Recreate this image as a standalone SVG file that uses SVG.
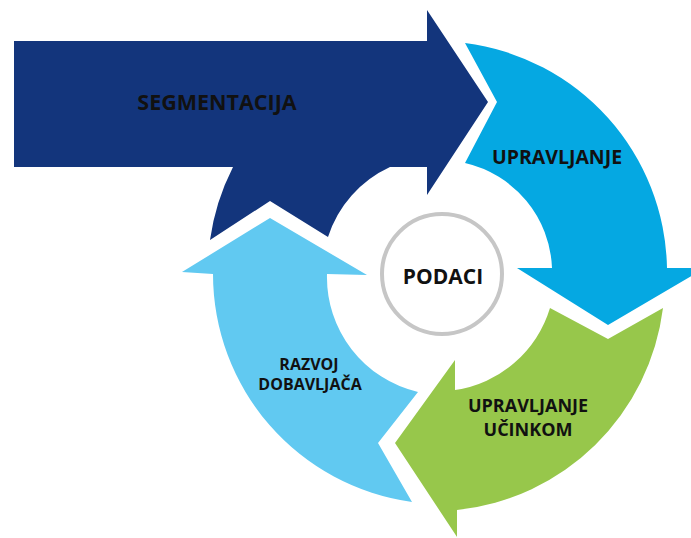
<svg xmlns="http://www.w3.org/2000/svg" width="691" height="538" viewBox="0 0 691 538">
  <style>
    .lbl { font-family: "Open Sans", "Liberation Sans", sans-serif; font-weight: 700; fill: #111111; text-anchor: middle; }
  </style>
  <rect width="691" height="538" fill="#ffffff"/>
  <g id="connectors"></g>
  <g id="segmentacija">
    <path d="M14,41 L427,41 L427,10 L488,102 L427,195 L427,167 L390,167 A116,116 0 0 0 328,237 L270,201 L210,240 A232,232 0 0 1 233,167 L14,167 Z" fill="#13357c"/>
    <text class="lbl" x="217" y="110" font-size="21.5">SEGMENTACIJA</text>
  </g>
  <g id="upravljanje">
    <path d="M465,43 A231,231 0 0 1 667,268 L705,268 L608,325 L517,268 L552,268 A112,112 0 0 0 465,163 L497,102 Z" fill="#05a8e2"/>
    <text class="lbl" x="557" y="164" font-size="19.5">UPRAVLJANJE</text>
  </g>
  <g id="upravljanje-ucinkom">
    <path d="M550,308 L608,339 L663,308 A232,232 0 0 1 457,510 L457,537 L459,540 L395,443 L455,360 L455,390 A117,117 0 0 0 550,308 Z" fill="#97c74b"/>
    <text class="lbl" x="528" y="412" font-size="18">UPRAVLJANJE</text>
    <text class="lbl" x="528" y="436" font-size="18">UČINKOM</text>
  </g>
  <g id="razvoj-dobavljaca">
    <path d="M418,392 L378,443 L412,502 A230,230 0 0 1 213,274 L182,272 L270,218 L367,275 L327,274 A118,118 0 0 0 418,392 Z" fill="#61c9f1"/>
    <text class="lbl" x="309" y="370" font-size="16">RAZVOJ</text>
    <text class="lbl" x="310" y="390" font-size="16">DOBAVLJAČA</text>
  </g>
  <g id="podaci">
    <circle cx="442" cy="274" r="60" fill="#ffffff" stroke="#c6c6c6" stroke-width="4"/>
    <text class="lbl" x="443" y="284" font-size="21">PODACI</text>
  </g>
</svg>
